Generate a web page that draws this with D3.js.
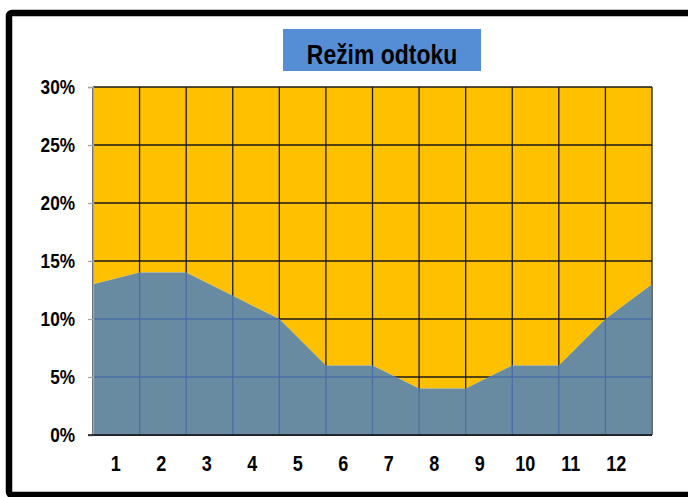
<!DOCTYPE html>
<html>
<head>
<meta charset="utf-8">
<script src="https://cdn.jsdelivr.net/npm/d3@7"></script>
<style>
  body { margin: 0; background: #fff; }
  svg text { font-family: "Liberation Sans Narrow", "Arial Narrow", "Liberation Sans", sans-serif; font-weight: bold; }
</style>
</head>
<body>
<div id="chart"></div>
<script>
// months shown on the x axis
var months = ["1", "2", "3", "4", "5", "6", "7", "8", "9", "10", "11", "12"];
// runoff share (%) at each gridline, left edge to right edge
var runoff = [13, 14, 14, 12, 10, 6, 6, 4, 4, 6, 6, 10, 13];
// remainder up to 30 %, drawn in orange on top
var rest = [17, 16, 16, 18, 20, 24, 24, 26, 26, 24, 24, 20, 17];
var yTicks = [0, 5, 10, 15, 20, 25, 30];
var title = "Režim odtoku";

drawChart();

function drawChart() {
    var width = 688, height = 497;
    var pl = 93, pt = 87, pr = 652, pb = 435;

    var svg = d3.select("#chart").append("svg")
        .attr("width", width)
        .attr("height", height);

    // outer frame
    svg.append("rect")
        .attr("x", 9).attr("y", 13)
        .attr("width", 692).attr("height", 482)
        .attr("rx", 3)
        .attr("fill", "#fff")
        .attr("stroke", "#000")
        .attr("stroke-width", 6.5);

    var x = d3.scaleLinear().domain([0, runoff.length - 1]).range([pl, pr]);
    var y = d3.scaleLinear().domain([0, 30]).range([pb, pt]);
    var xBand = d3.scaleBand().domain(months).range([pl, pr - 13]);

    var table = runoff.map(function (v, i) { return { i: i, runoff: v, rest: rest[i] }; });
    var series = d3.stack().keys(["runoff", "rest"])(table);

    var area = d3.area()
        .x(function (d) { return x(d.data.i); })
        .y0(function (d) { return y(d[0]); })
        .y1(function (d) { return y(d[1]); });

    svg.append("path")
        .datum(series[1])
        .attr("d", area)
        .attr("fill", "#FFC000");

    function grid(g, color) {
        g.selectAll(".h").data(yTicks).enter().append("line")
            .attr("x1", pl).attr("x2", pr)
            .attr("y1", function (d) { return y(d); })
            .attr("y2", function (d) { return y(d); })
            .attr("stroke", color).attr("stroke-width", 1.3);
        g.selectAll(".v").data(runoff).enter().append("line")
            .attr("x1", function (d, i) { return x(i); })
            .attr("x2", function (d, i) { return x(i); })
            .attr("y1", pt).attr("y2", pb)
            .attr("stroke", color).attr("stroke-width", 1.3);
    }

    grid(svg.append("g"), "#1a1a1a");

    svg.append("path")
        .datum(series[0])
        .attr("d", area)
        .attr("fill", "#688BA1");

    svg.append("clipPath").attr("id", "lowClip")
        .append("path").datum(series[0]).attr("d", area);

    grid(svg.append("g").attr("clip-path", "url(#lowClip)"), "#4A6EA6");

    // y axis
    var yAxis = svg.append("g")
        .attr("transform", "translate(" + pl + ",0)")
        .call(d3.axisLeft(y).tickValues(yTicks).tickSize(5).tickPadding(0)
            .tickFormat(function (d) { return d + "%"; }));
    yAxis.select(".domain").attr("stroke", "#A6A6A6").attr("stroke-width", 1.3);
    yAxis.selectAll(".tick line").attr("stroke", "#A6A6A6").attr("stroke-width", 1.3);
    yAxis.selectAll(".tick text")
        .attr("fill", "#000")
        .attr("x", null)
        .attr("transform", "translate(-18,0) scale(0.82,1)")
        .style("font-size", "21px")
        .style("font-family", null);

    // x axis baseline
    svg.append("line")
        .attr("x1", pl - 5).attr("x2", pr)
        .attr("y1", pb).attr("y2", pb)
        .attr("stroke", "#111").attr("stroke-width", 1.5);

    svg.append("g").selectAll("text").data(months).enter().append("text")
        .attr("transform", function (d) {
            return "translate(" + (xBand(d) + xBand.bandwidth() / 2) + ",471) scale(0.82,1)";
        })
        .attr("text-anchor", "middle")
        .style("font-size", "22px")
        .text(function (d) { return d; });

    // title box
    svg.append("rect")
        .attr("x", 283).attr("y", 29)
        .attr("width", 198).attr("height", 42)
        .attr("fill", "#558ED5");
    svg.append("text")
        .attr("transform", "translate(382,64) scale(0.85,1)")
        .attr("text-anchor", "middle")
        .style("font-size", "27px")
        .text(title);
}
</script>
</body>
</html>
